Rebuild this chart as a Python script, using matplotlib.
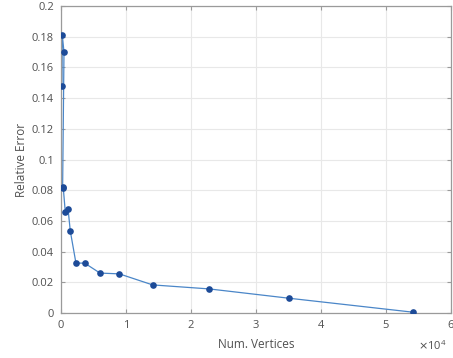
import matplotlib
matplotlib.use("Agg")
import matplotlib.pyplot as plt
from matplotlib.ticker import FuncFormatter

# Mesh size vs. relative error
num_vertices = [150, 200, 460, 250, 350, 660, 1080, 1430, 2300, 3640,
                6000, 8970, 14100, 22770, 35120, 54200]
relative_error = [0.148, 0.181, 0.170, 0.0822, 0.0815, 0.0658, 0.068, 0.0534,
                  0.0325, 0.0325, 0.026, 0.0255, 0.0183, 0.0157, 0.0096, 0.0005]

x_ticks = [0, 1e4, 2e4, 3e4, 4e4, 5e4, 6e4]
y_ticks = [0, 0.02, 0.04, 0.06, 0.08, 0.1, 0.12, 0.14, 0.16, 0.18, 0.2]

plt.rcParams['font.family'] = ['Open Sans', 'DejaVu Sans']
text_color = '#505050'
frame_color = '#9a9a9a'

fig = plt.figure(figsize=(4.53, 3.58), dpi=100)
ax = fig.add_axes([61 / 453, 45 / 358, 390 / 453, 307 / 358])

ax.plot(num_vertices, relative_error, '-', color='#4a86c8', linewidth=0.9, zorder=2)
ax.plot(num_vertices, relative_error, 'o', color='#1d4b98', markersize=4.8,
        markeredgewidth=0, zorder=3)

ax.set_xlim(0, 6e4)
ax.set_ylim(0, 0.2)
ax.set_xticks(x_ticks)
ax.set_yticks(y_ticks)
ax.xaxis.set_major_formatter(FuncFormatter(lambda v, p: f"{v / 1e4:g}"))
ax.yaxis.set_major_formatter(FuncFormatter(lambda v, p: f"{v:g}"))

ax.grid(True, color='#e8e8e8', linewidth=0.8)
ax.set_axisbelow(True)
for s in ax.spines.values():
    s.set_color(frame_color)
    s.set_linewidth(0.9)
ax.tick_params(axis='both', direction='in', length=3, color=frame_color,
               labelsize=8, labelcolor=text_color, pad=5, top=True, right=True,
               labeltop=False, labelright=False)

ax.set_xlabel('Num. Vertices', fontsize=8.5, color=text_color, labelpad=5)
ax.set_ylabel('Relative Error', fontsize=8.5, color=text_color, labelpad=3)

fig.text(432 / 453, 1 - 346 / 358, r'$\times\mathregular{10^4}$', fontsize=8,
         color=text_color, ha='center', va='center')

fig.savefig('out.png', dpi=100)
